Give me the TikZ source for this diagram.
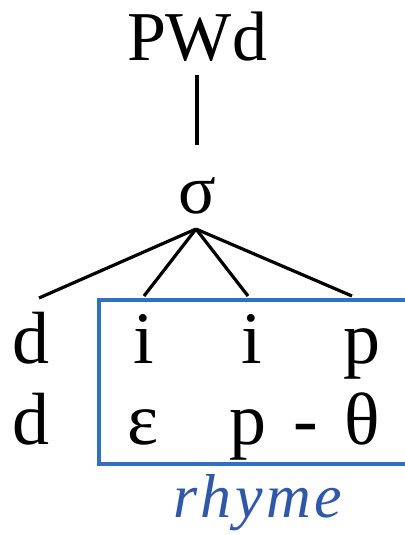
\documentclass[tikz,border=0pt]{standalone}
\usepackage{fontspec}
\setmainfont{Liberation Serif}
\definecolor{boxblue}{HTML}{3070C0}
\definecolor{txtblue}{HTML}{3058A8}
\begin{document}
\begin{tikzpicture}[x=1pt,y=-1pt,
  big/.style={anchor=base,inner sep=0pt,font=\fontsize{70}{70}\selectfont},
  seg/.style={anchor=base,inner sep=0pt,font=\fontsize{74}{74}\selectfont},
  branch/.style={line width=3.2pt,black},
  rbox/.style={draw=boxblue,line width=4pt}]
\useasboundingbox (0,0) rectangle (404,535);
\node[big] (pwd) at (197,60) {PWd};
\node[big] (sigma) at (197,213) {σ};
\draw[branch] (197,75) coordinate (top) -- (197,145) coordinate (bot);
\coordinate (apex) at (196,229);
\coordinate (e1) at (39,298);
\coordinate (e2) at (144,296);
\coordinate (e3) at (248,296);
\coordinate (e4) at (352,296);
\foreach \e in {e1,e2,e3,e4} \draw[branch] (apex) -- (\e);
\node[seg] (d1) at (31,363) {d};
\node[seg] (i1) at (144,363) {i};
\node[seg] (i2) at (252,363) {i};
\node[seg] (p1) at (362,363) {p};
\node[seg] (d2) at (31,444) {d};
\node[seg] (eps) at (143,444) {ε};
\node[seg] (p2) at (248,444) {p};
\node[seg] (dash) at (306,444) {-};
\node[seg] (th) at (362,444) {θ};
\draw[rbox] (99,300) rectangle (412,464);
\node[anchor=base,inner sep=0pt,text=txtblue,font=\fontsize{62}{62}\selectfont\itshape\addfontfeature{LetterSpace=6}] (rhyme) at (258,517) {rhyme};
\end{tikzpicture}
\end{document}
